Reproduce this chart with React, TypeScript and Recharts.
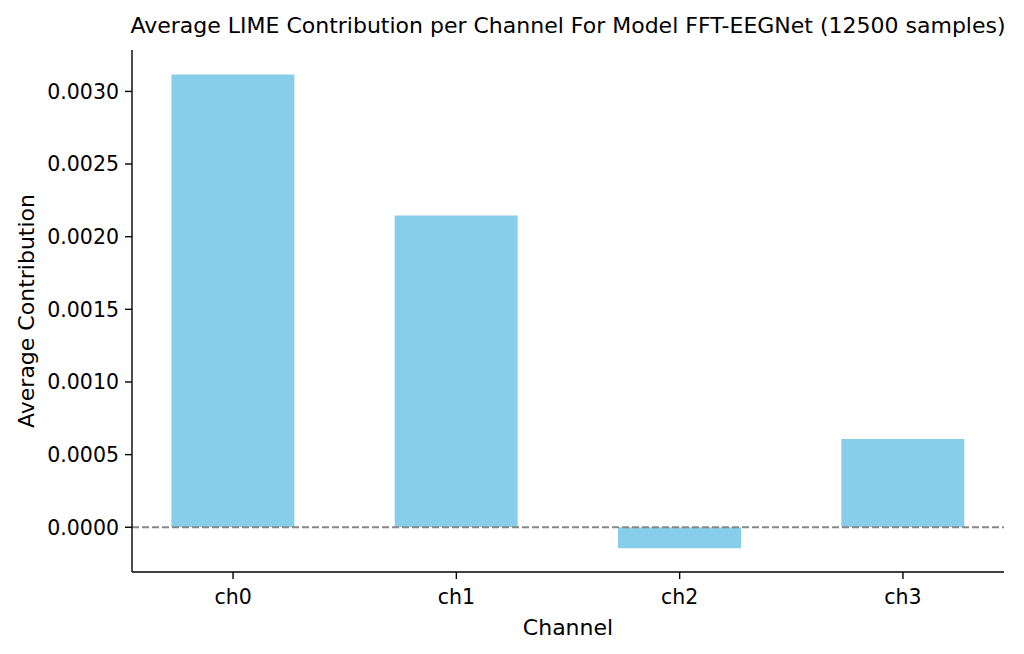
import { BarChart, Bar, XAxis, YAxis, ReferenceLine } from "recharts"

const channels = ["ch0", "ch1", "ch2", "ch3"]
const contributions = [0.003117, 0.002145, -0.000145, 0.000607]
const yTicks = [0, 0.0005, 0.001, 0.0015, 0.002, 0.0025, 0.003]

const data = channels.map((name, i) => ({ idx: i, name, value: contributions[i] }))

const FONT = "DejaVu Sans, sans-serif"

export default function App() {
  return (
    <div style={{ position: "absolute", left: 0, top: 0, width: 1024, height: 654, background: "#fff" }}>
      <BarChart
        width={1024}
        height={654}
        data={data}
        margin={{ top: 50, right: 20, left: 0, bottom: 0 }}
      >
        <XAxis
          dataKey="idx"
          type="number"
          domain={[-0.4525, 3.4525]}
          ticks={[0, 1, 2, 3]}
          tickFormatter={(v: number) => channels[v]}
          height={82}
          axisLine={{ stroke: "#000", strokeWidth: 1.4 }}
          tickLine={{ stroke: "#000", strokeWidth: 1.4 }}
          tickSize={7}
          tickMargin={10}
          tick={{ fill: "#000", fontSize: 20.5, fontFamily: FONT }}
        />
        <YAxis
          type="number"
          domain={[-0.000308, 0.003285]}
          ticks={yTicks}
          tickFormatter={(v: number) => v.toFixed(4)}
          width={132}
          axisLine={{ stroke: "#000", strokeWidth: 1.4 }}
          tickLine={{ stroke: "#000", strokeWidth: 1.4 }}
          tickSize={7}
          tickMargin={6}
          tick={{ fill: "#000", fontSize: 20.5, fontFamily: FONT }}
          allowDataOverflow
        />
        <Bar dataKey="value" fill="#87CEEB" barSize={123} isAnimationActive={false} />
        <ReferenceLine y={0} stroke="#888" strokeWidth={1.9} strokeDasharray="7 3" />
      </BarChart>
      <svg
        width={1024}
        height={654}
        style={{ position: "absolute", left: 0, top: 0, pointerEvents: "none" }}
        fontFamily={FONT}
      >
        <text x={568} y={33} textAnchor="middle" fontSize={22} fill="#000">
          Average LIME Contribution per Channel For Model FFT-EEGNet (12500 samples)
        </text>
        <text x={568} y={635} textAnchor="middle" fontSize={22} fill="#000">
          Channel
        </text>
        <text transform="translate(34,311) rotate(-90)" textAnchor="middle" fontSize={22} fill="#000">
          Average Contribution
        </text>
      </svg>
    </div>
  )
}
